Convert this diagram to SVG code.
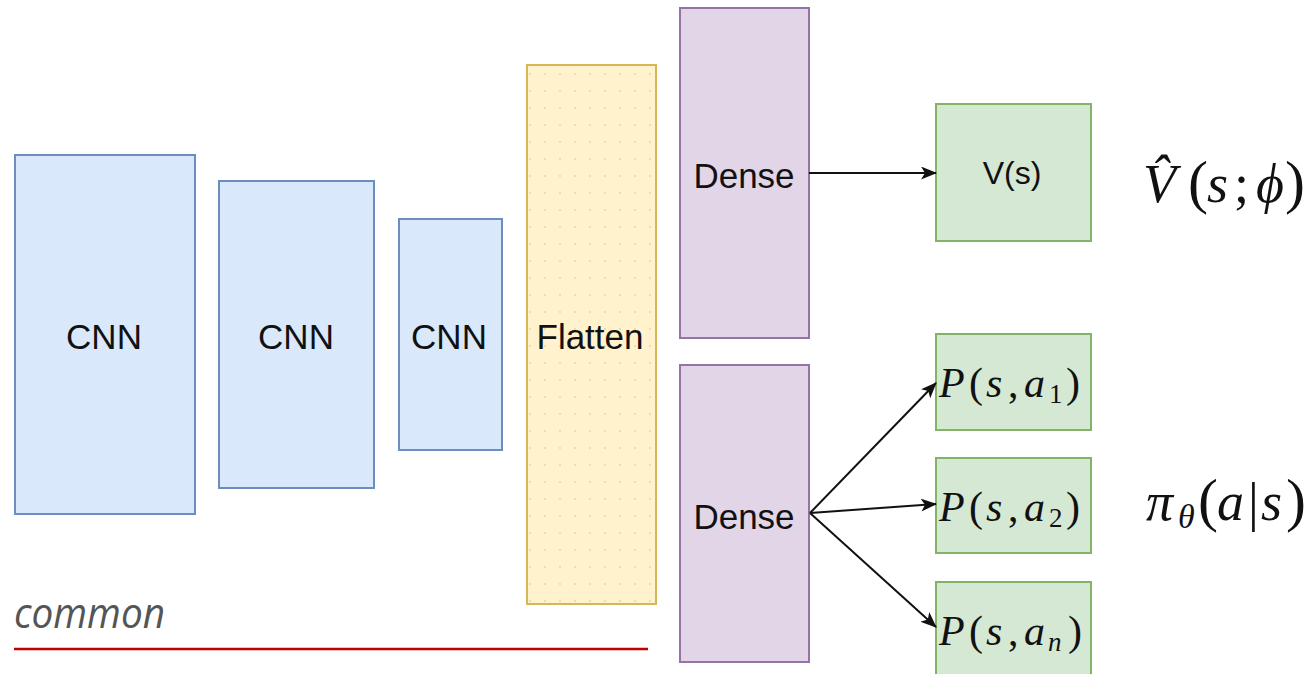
<svg xmlns="http://www.w3.org/2000/svg" width="1311" height="674" viewBox="0 0 1311 674">
<style>
.lbl{font-family:"Liberation Sans",Arial,sans-serif;font-size:35px;fill:#111;text-anchor:middle;dominant-baseline:central}
.math{font-family:"Liberation Serif","Times New Roman",serif;font-style:italic;fill:#111}
.up{font-style:normal}
.cnn{fill:#dae8fc;stroke:#6c8ebf;stroke-width:2}
.flat{stroke:#d6b656;stroke-width:2}
.dense{fill:#e1d5e7;stroke:#9673a6;stroke-width:2}
.out{fill:#d5e8d4;stroke:#82b366;stroke-width:2}
.conn{stroke:#111;stroke-width:2;fill:none;marker-end:url(#arr)}
</style>
<defs>
<marker id="arr" viewBox="0 0 16 13" refX="15" refY="6.5" markerWidth="16" markerHeight="13" orient="auto" markerUnits="userSpaceOnUse">
<path d="M0,0 L16,6.5 L0,13 L4,6.5 Z" fill="#111"/>
</marker>
<pattern id="dots" width="15" height="17" patternUnits="userSpaceOnUse">
<rect width="15" height="17" fill="#fff2cc"/>
<circle cx="5" cy="6" r="0.9" fill="#e6d3a0"/>
</pattern>
</defs>
<rect width="1311" height="674" fill="#fff"/>

<g id="cnn1"><rect class="cnn" x="15" y="155" width="180" height="359"/><text class="lbl" x="104" y="336">CNN</text></g>
<g id="cnn2"><rect class="cnn" x="219" y="181" width="155" height="307"/><text class="lbl" x="296" y="336">CNN</text></g>
<g id="cnn3"><rect class="cnn" x="399" y="219" width="103" height="231"/><text class="lbl" x="449" y="336">CNN</text></g>
<g id="flatten"><rect class="flat" fill="url(#dots)" x="527" y="65" width="129" height="539"/><text class="lbl" x="590" y="336">Flatten</text></g>
<g id="dense1"><rect class="dense" x="680" y="8" width="129" height="330"/><text class="lbl" x="744" y="175">Dense</text></g>
<g id="dense2"><rect class="dense" x="680" y="365" width="129" height="297"/><text class="lbl" x="744" y="516">Dense</text></g>
<g id="vs"><rect class="out" x="936" y="104" width="155" height="137"/><text class="lbl" x="1012" y="173" style="font-size:32px">V(s)</text></g>
<g id="p1"><rect class="out" x="936" y="334" width="155" height="96"/><text class="math" y="397" font-size="42"><tspan x="939">P</tspan><tspan class="up" x="969">(</tspan><tspan x="986">s</tspan><tspan class="up" x="1008">,</tspan><tspan x="1024">a</tspan><tspan class="up" x="1049" font-size="27" dy="6">1</tspan><tspan class="up" x="1066" dy="-6">)</tspan></text></g>
<g id="p2"><rect class="out" x="936" y="458" width="155" height="95"/><text class="math" y="521" font-size="42"><tspan x="939">P</tspan><tspan class="up" x="969">(</tspan><tspan x="986">s</tspan><tspan class="up" x="1008">,</tspan><tspan x="1024">a</tspan><tspan class="up" x="1049" font-size="27" dy="6">2</tspan><tspan class="up" x="1066" dy="-6">)</tspan></text></g>
<g id="pn"><rect class="out" x="936" y="582" width="155" height="100"/><text class="math" y="645" font-size="42"><tspan x="939">P</tspan><tspan class="up" x="969">(</tspan><tspan x="986">s</tspan><tspan class="up" x="1008">,</tspan><tspan x="1024">a</tspan><tspan x="1048" font-size="27" dy="6">n</tspan><tspan class="up" x="1068" dy="-6">)</tspan></text></g>

<g id="connectors">
<line class="conn" x1="809" y1="173" x2="936" y2="173"/>
<line class="conn" x1="810" y1="513" x2="936" y2="383"/>
<line class="conn" x1="810" y1="513" x2="936" y2="504"/>
<line class="conn" x1="810" y1="513" x2="936" y2="627"/>
</g>

<g id="vhat-label">
<text class="math" y="202" font-size="54"><tspan x="1143">V̂</tspan><tspan class="up" x="1188" font-size="60">(</tspan><tspan x="1207">s</tspan><tspan class="up" x="1234">;</tspan><tspan x="1256">ϕ</tspan><tspan class="up" x="1285" font-size="60">)</tspan></text>
</g>
<g id="pi-label">
<text class="math" y="520" font-size="54"><tspan x="1146">π</tspan><tspan x="1178" font-size="34" dy="8">θ</tspan><tspan class="up" x="1198" dy="-8" font-size="60">(</tspan><tspan x="1217">a</tspan><tspan class="up" x="1248">|</tspan><tspan x="1261">s</tspan><tspan class="up" x="1286" font-size="60">)</tspan></text>
</g>

<g id="common">
<text x="14" y="628" font-family="Open Sans,sans-serif" font-style="italic" font-size="42" fill="#555" textLength="151" lengthAdjust="spacingAndGlyphs">common</text>
<line x1="14" y1="649" x2="648" y2="649" stroke="#c00000" stroke-width="2.5"/>
</g>
</svg>
